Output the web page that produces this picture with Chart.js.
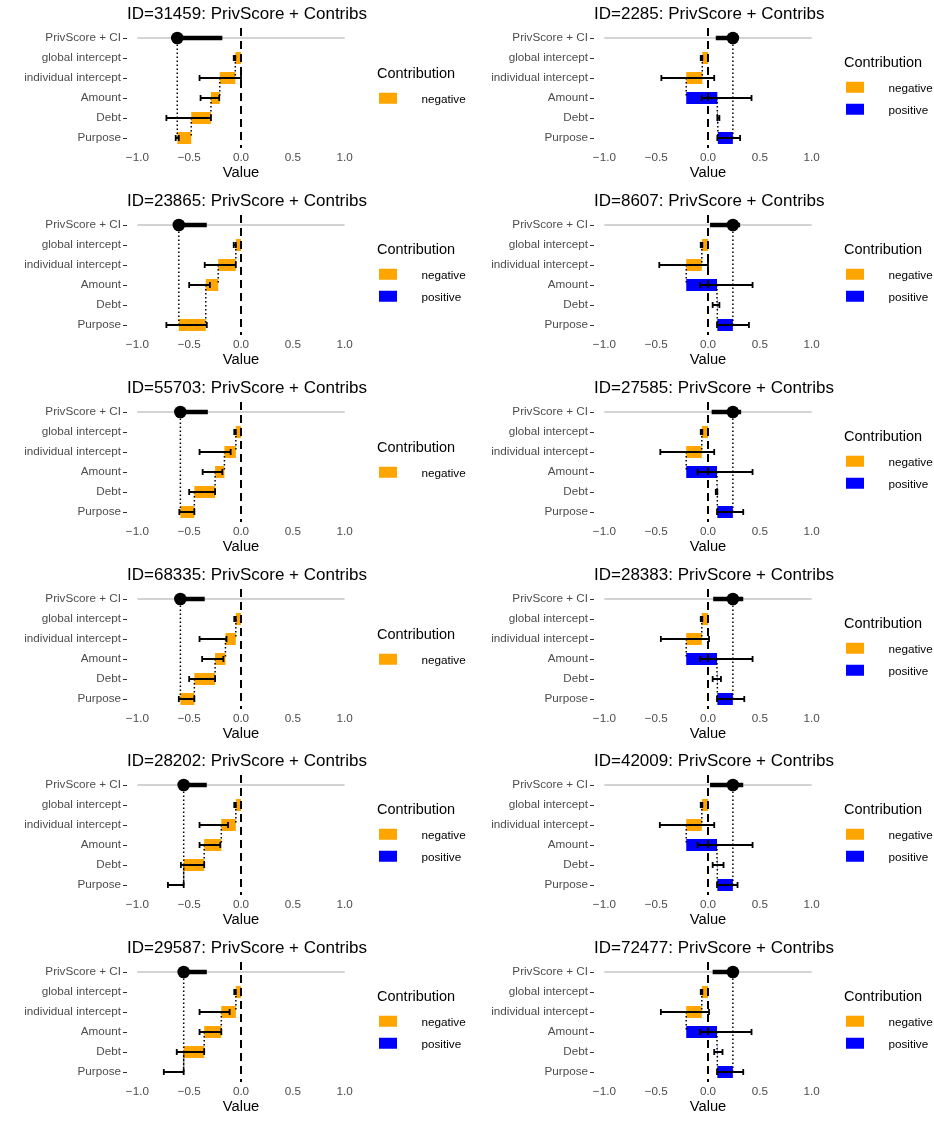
<!DOCTYPE html>
<html>
<head>
<meta charset="utf-8">
<title>PrivScore + Contribs</title>
<script src="https://cdn.jsdelivr.net/npm/chart.js@4.4.1/dist/chart.umd.min.js"></script>
<style>
body { margin: 0; background: #fff; font-family: "Liberation Sans", Arial, sans-serif; }
#grid { position: relative; width: 934px; height: 1121px; }
.panel { position: absolute; width: 467px; height: 187px; }
.panel canvas { position: absolute; left: 0; top: 0; }
.legend { position: absolute; left: 377px; top: 87px; transform: translateY(-50%); }
.legend .ttl { font-size: 14.5px; line-height: 17px; margin-bottom: 5.5px; color: #000; }
.legend .item { height: 22px; display: flex; align-items: center; font-size: 11.7px; color: #000; }
.legend .key { width: 18px; height: 11px; margin-left: 1.5px; margin-right: 25px; }
</style>
</head>
<body>
<div id="grid"></div>
<script>
/* panels, row-major: left column then right column */
var panelIds = [31459, 2285, 23865, 8607, 55703, 27585, 68335, 28383, 28202, 42009, 29587, 72477];
var rowLabels = ['PrivScore + CI', 'global intercept', 'individual intercept', 'Amount', 'Debt', 'Purpose'];

/* contributions: global intercept, individual intercept, Amount, Debt, Purpose */
var contribs = [
	[-0.055, -0.15, -0.085, -0.19, -0.135],
	[-0.055, -0.155, 0.30, 0.005, 0.145],
	[-0.05, -0.17, -0.12, 0, -0.26],
	[-0.06, -0.15, 0.297, 0.003, 0.15],
	[-0.05, -0.11, -0.09, -0.20, -0.135],
	[-0.06, -0.15, 0.297, 0.003, 0.15],
	[-0.05, -0.10, -0.10, -0.20, -0.135],
	[-0.06, -0.15, 0.297, 0.003, 0.15],
	[-0.05, -0.14, -0.165, -0.198, 0],
	[-0.06, -0.15, 0.297, 0.003, 0.15],
	[-0.05, -0.14, -0.165, -0.198, 0],
	[-0.06, -0.15, 0.297, 0.003, 0.15]
];

/* error bar ends per contribution row */
var errLow = [
	[-0.07, -0.40, -0.39, -0.72, -0.63],
	[-0.07, -0.45, -0.06, 0.09, 0.09],
	[-0.07, -0.35, -0.50, null, -0.72],
	[-0.07, -0.47, -0.075, 0.045, 0.087],
	[-0.065, -0.40, -0.37, -0.50, -0.595],
	[-0.07, -0.46, -0.10, 0.075, 0.087],
	[-0.065, -0.40, -0.375, -0.50, -0.60],
	[-0.07, -0.455, -0.075, 0.045, 0.087],
	[-0.065, -0.40, -0.40, -0.58, -0.705],
	[-0.07, -0.465, -0.10, 0.045, 0.087],
	[-0.065, -0.40, -0.40, -0.62, -0.745],
	[-0.07, -0.455, -0.075, 0.06, 0.087]
];
var errHigh = [
	[-0.055, 0.0, -0.21, -0.29, -0.60],
	[-0.055, 0.06, 0.42, 0.11, 0.31],
	[-0.05, -0.05, -0.30, null, -0.33],
	[-0.055, 0.0, 0.43, 0.11, 0.395],
	[-0.05, -0.10, -0.18, -0.25, -0.45],
	[-0.055, 0.06, 0.43, 0.09, 0.34],
	[-0.05, -0.14, -0.17, -0.25, -0.45],
	[-0.055, 0.01, 0.43, 0.125, 0.35],
	[-0.05, -0.125, -0.20, -0.355, -0.553],
	[-0.055, 0.06, 0.43, 0.15, 0.285],
	[-0.05, -0.11, -0.19, -0.355, -0.553],
	[-0.055, 0.01, 0.42, 0.14, 0.34]
];

/* PrivScore confidence interval */
var ciLow = [-0.64, 0.075, -0.62, 0.02, -0.60, 0.035, -0.60, 0.05, -0.57, 0.02, -0.57, 0.045];
var ciHigh = [-0.18, 0.27, -0.33, 0.31, -0.32, 0.32, -0.35, 0.34, -0.33, 0.34, -0.33, 0.27];

var scoreRange = [-1, 1];
var tickValues = [-1, -0.5, 0, 0.5, 1];
var xLimits = [-1.1, 1.1];

var NEG = '#FFA500', POS = '#0000FF';

Chart.defaults.font.family = '"Liberation Sans", Arial, sans-serif';
Chart.defaults.animation = false;

function fmt(v) {
	return (v < 0 ? '\u2212' : '') + Math.abs(v).toFixed(1);
}

/* ---- extra marks: range line, error bars, connectors, zero line, score ---- */
function marksPlugin(p, ends) {
	return {
		id: 'marks' + p,
		beforeDatasetsDraw: function (chart) {
			var ctx = chart.ctx, x = chart.scales.x, y = chart.scales.y;
			ctx.save();
			ctx.strokeStyle = '#C4C4C4';
			ctx.lineWidth = 1.5;
			ctx.beginPath();
			ctx.moveTo(x.getPixelForValue(scoreRange[0]), y.getPixelForValue(0));
			ctx.lineTo(x.getPixelForValue(scoreRange[1]), y.getPixelForValue(0));
			ctx.stroke();
			ctx.restore();
		},
		afterDatasetsDraw: function (chart) {
			var ctx = chart.ctx, x = chart.scales.x, y = chart.scales.y, area = chart.chartArea;
			var score = ends[ends.length - 1];
			ctx.save();
			ctx.strokeStyle = '#000';
			ctx.fillStyle = '#000';

			// error bars
			ctx.lineWidth = 1.8;
			for (var r = 0; r < ends.length; r++) {
				var lo = errLow[p][r], hi = errHigh[p][r];
				if (lo === null) continue;
				var yy = y.getPixelForValue(r + 1), x1 = x.getPixelForValue(lo), x2 = x.getPixelForValue(hi);
				ctx.beginPath();
				ctx.moveTo(x1, yy); ctx.lineTo(x2, yy);
				ctx.moveTo(x1, yy - 3); ctx.lineTo(x1, yy + 3);
				ctx.moveTo(x2, yy - 3); ctx.lineTo(x2, yy + 3);
				ctx.stroke();
			}

			// dotted connectors
			ctx.setLineDash([1.5, 2.5]);
			ctx.lineWidth = 1.5;
			ctx.beginPath();
			for (var k = 0; k < ends.length - 1; k++) {
				var xk = x.getPixelForValue(ends[k]);
				ctx.moveTo(xk, y.getPixelForValue(k + 1));
				ctx.lineTo(xk, y.getPixelForValue(k + 2));
			}
			var xs = x.getPixelForValue(score);
			ctx.moveTo(xs, y.getPixelForValue(ends.length));
			ctx.lineTo(xs, y.getPixelForValue(0));
			ctx.stroke();

			// zero line
			ctx.setLineDash([8, 5]);
			ctx.lineWidth = 2;
			var x0 = x.getPixelForValue(0);
			ctx.beginPath();
			ctx.moveTo(x0, area.top);
			ctx.lineTo(x0, area.bottom);
			ctx.stroke();
			ctx.setLineDash([]);

			// score + CI
			var y0 = y.getPixelForValue(0);
			ctx.lineWidth = 4.5;
			ctx.beginPath();
			ctx.moveTo(x.getPixelForValue(ciLow[p]), y0);
			ctx.lineTo(x.getPixelForValue(ciHigh[p]), y0);
			ctx.stroke();
			ctx.beginPath();
			ctx.arc(xs, y0, 6.3, 0, Math.PI * 2);
			ctx.fill();
			ctx.restore();
		},
		afterDraw: function (chart) {
			var ctx = chart.ctx;
			ctx.save();
			ctx.fillStyle = '#000';
			ctx.font = '17px "Liberation Sans", Arial, sans-serif';
			ctx.textBaseline = 'middle';
			ctx.textAlign = 'left';
			ctx.fillText('ID=' + panelIds[p] + ': PrivScore + Contribs', chart.chartArea.left, 14);
			ctx.restore();
		}
	};
}

var grid = document.getElementById('grid');

panelIds.forEach(function (id, p) {
	var c = contribs[p];
	var ends = [], s = 0;
	c.forEach(function (v) { s += v; ends.push(s); });
	var starts = [0].concat(ends.slice(0, -1));

	var negData = rowLabels.map(function (_, r) {
		return (r > 0 && c[r - 1] < 0) ? [starts[r - 1], ends[r - 1]] : null;
	});
	var posData = rowLabels.map(function (_, r) {
		return (r > 0 && c[r - 1] >= 0) ? [starts[r - 1], ends[r - 1]] : null;
	});
	var hasPos = c.some(function (v) { return v >= 0; });

	var panel = document.createElement('div');
	panel.className = 'panel';
	panel.style.left = (p % 2) * 467 + 'px';
	panel.style.top = Math.round(Math.floor(p / 2) * 1121 / 6) + 'px';
	var canvas = document.createElement('canvas');
	canvas.width = 467;
	canvas.height = 187;
	panel.appendChild(canvas);

	// legend
	var leg = document.createElement('div');
	leg.className = 'legend';
	var html = '<div class="ttl">Contribution</div>';
	html += '<div class="item"><span class="key" style="background:' + NEG + '"></span>negative</div>';
	if (hasPos) html += '<div class="item"><span class="key" style="background:' + POS + '"></span>positive</div>';
	leg.innerHTML = html;
	panel.appendChild(leg);
	grid.appendChild(panel);

	var barOpts = { grouped: false, barPercentage: 0.6, categoryPercentage: 1, borderWidth: 0 };

	new Chart(canvas, {
		type: 'bar',
		data: {
			labels: rowLabels,
			datasets: [
				Object.assign({ label: 'negative', data: negData, backgroundColor: NEG }, barOpts),
				Object.assign({ label: 'positive', data: posData, backgroundColor: POS }, barOpts)
			]
		},
		options: {
			indexAxis: 'y',
			responsive: false,
			devicePixelRatio: 1,
			events: [],
			layout: { padding: { top: 28, right: 112, left: 0, bottom: 0 } },
			plugins: {
				legend: { display: false },
				tooltip: { enabled: false },
				title: { display: false }
			},
			scales: {
				x: {
					type: 'linear',
					min: xLimits[0],
					max: xLimits[1],
					grid: { display: false, drawTicks: false },
					border: { display: false },
					afterBuildTicks: function (sc) {
						sc.ticks = tickValues.map(function (v) { return { value: v }; });
					},
					afterFit: function (sc) { sc.height = 39; },
					ticks: {
						color: '#4D4D4D',
						font: { size: 11.7 },
						padding: 2.5,
						callback: function (v) { return fmt(v); }
					},
					title: {
						display: true,
						text: 'Value',
						color: '#000',
						font: { size: 14.7 },
						padding: { top: 0, bottom: 5 }
					}
				},
				y: {
					offset: true,
					grid: { display: true, drawOnChartArea: false, drawTicks: true, tickLength: 4, offset: false, color: '#333' },
					border: { display: false },
					afterFit: function (sc) { sc.width = 127; },
					ticks: { color: '#4D4D4D', font: { size: 11.7 }, padding: 2 }
				}
			}
		},
		plugins: [marksPlugin(p, ends)]
	});
});
</script>
</body>
</html>
